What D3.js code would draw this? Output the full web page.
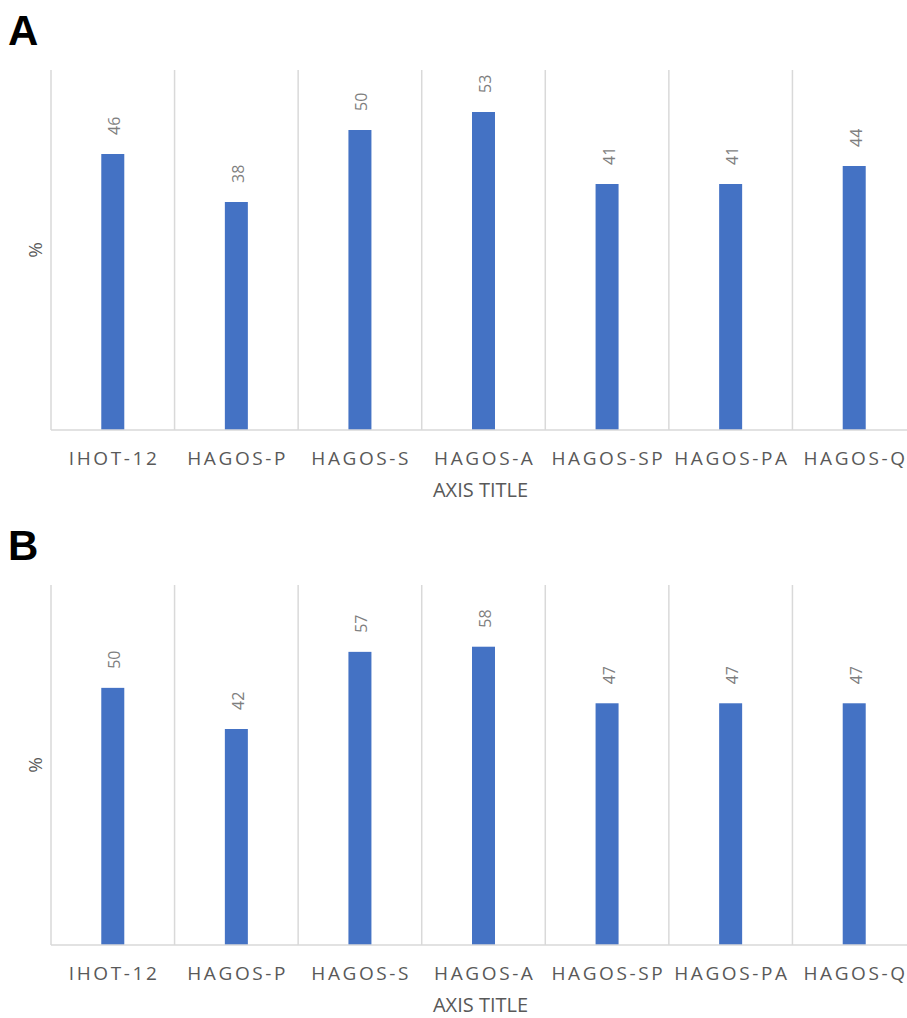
<!DOCTYPE html>
<html>
<head>
<meta charset="utf-8">
<script src="https://cdn.jsdelivr.net/npm/d3@7"></script>
<style>
  body { margin: 0; background: #fff; }
  svg { display: block; }
</style>
</head>
<body>
<svg id="chart" width="907" height="1018"></svg>
<script>
   // categories and values
   var categories = ["IHOT-12", "HAGOS-P", "HAGOS-S", "HAGOS-A", "HAGOS-SP", "HAGOS-PA", "HAGOS-Q"];
   var valuesA = [46, 38, 50, 53, 41, 41, 44];
   var valuesB = [50, 42, 57, 58, 47, 47, 47];
   var panelLetters = ["A", "B"];
   var yMax = [60, 70];

   var svg = d3.select("#chart");
   var fontFamily = "'Open Sans', 'Liberation Sans', sans-serif";

   function drawPanel(letter, values, maxVal, top) {
      var g = svg.append("g").attr("transform", "translate(0," + top + ")");

      var plotLeft = 51, plotRight = 916, plotTop = 70, plotBottom = 430;

      var x = d3.scaleBand()
         .domain(categories)
         .range([plotLeft, plotRight]);

      var y = d3.scaleLinear()
         .domain([0, maxVal])
         .range([plotBottom, plotTop]);

      // panel letter
      g.append("text")
         .attr("x", 8)
         .attr("y", 45)
         .style("font-family", "'Liberation Sans', Arial, sans-serif")
         .style("font-weight", "bold")
         .style("font-size", "42px")
         .style("fill", "#000")
         .text(letter);

      // category separators
      var edges = categories.map(function(c) { return x(c); });
      edges.push(plotRight);
      g.selectAll("line.sep")
         .data(edges)
         .enter()
         .append("line")
         .attr("class", "sep")
         .attr("x1", function(d) { return d; })
         .attr("x2", function(d) { return d; })
         .attr("y1", plotTop)
         .attr("y2", plotBottom)
         .attr("stroke", "#d9d9d9")
         .attr("stroke-width", 1.5);

      // bars
      var barW = 23;
      g.selectAll("rect.bar")
         .data(values)
         .enter()
         .append("rect")
         .attr("class", "bar")
         .attr("x", function(d, i) { return x(categories[i]) + x.bandwidth() / 2 - barW / 2; })
         .attr("y", function(d) { return y(d); })
         .attr("width", barW)
         .attr("height", function(d) { return plotBottom - y(d); })
         .attr("fill", "#4472c4");

      // baseline
      g.append("line")
         .attr("x1", plotLeft)
         .attr("x2", plotRight)
         .attr("y1", plotBottom)
         .attr("y2", plotBottom)
         .attr("stroke", "#d9d9d9")
         .attr("stroke-width", 1.5);

      // value labels, rotated
      g.selectAll("text.val")
         .data(values)
         .enter()
         .append("text")
         .attr("class", "val")
         .attr("transform", function(d, i) {
            var cx = x(categories[i]) + x.bandwidth() / 2;
            return "translate(" + (cx + 7.5) + "," + (y(d) - 19) + ") rotate(-90)";
         })
         .style("font-family", fontFamily)
         .style("font-size", "16px")
         .style("fill", "#7f7f7f")
         .text(function(d) { return d; });

      // category labels
      var ls = 2.6;
      g.selectAll("text.cat")
         .data(categories)
         .enter()
         .append("text")
         .attr("class", "cat")
         .attr("x", function(d) { return x(d) + x.bandwidth() / 2 + ls / 2; })
         .attr("y", plotBottom + 35)
         .attr("text-anchor", "middle")
         .style("font-family", fontFamily)
         .style("font-size", "19px")
         .style("letter-spacing", ls + "px")
         .style("fill", "#595959")
         .text(function(d) { return d; });

      // axis titles
      g.append("text")
         .attr("x", 480.5)
         .attr("y", plotBottom + 67)
         .attr("text-anchor", "middle")
         .style("font-family", fontFamily)
         .style("font-size", "20px")
         .style("fill", "#595959")
         .text("AXIS TITLE");

      g.append("text")
         .attr("transform", "translate(42," + ((plotTop + plotBottom) / 2) + ") rotate(-90)")
         .attr("text-anchor", "middle")
         .style("font-family", fontFamily)
         .style("font-size", "19px")
         .style("fill", "#595959")
         .text("%");
   }

   drawPanel(panelLetters[0], valuesA, yMax[0], 0);
   drawPanel(panelLetters[1], valuesB, yMax[1], 515);
</script>
</body>
</html>
